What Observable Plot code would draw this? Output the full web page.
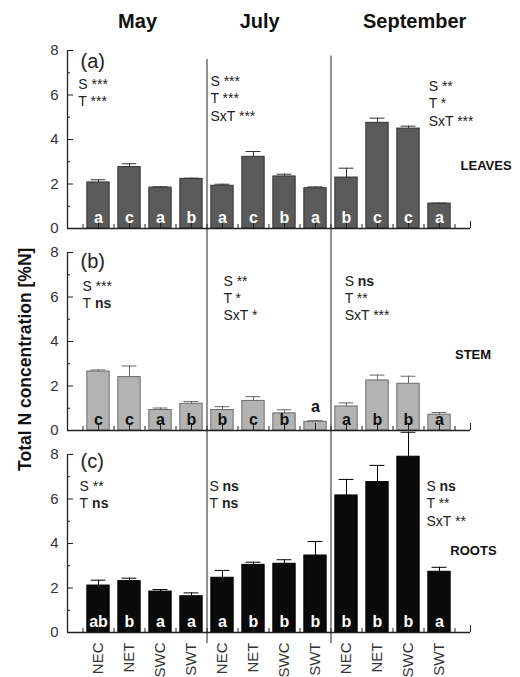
<!DOCTYPE html>
<html>
<head>
<meta charset="utf-8">
<script src="https://cdn.jsdelivr.net/npm/d3@7"></script>
<script src="https://cdn.jsdelivr.net/npm/@observablehq/plot@0.6"></script>
<style>
  html, body { margin: 0; padding: 0; background: #fff; }
  #chart svg { display: block; }
</style>
</head>
<body>
<div id="chart"></div>
<script>
// ---- data ----
const months = ["May", "July", "September"];
const treatments = ["NEC", "NET", "SWC", "SWT"];
const categories = months.flatMap(() => treatments);

const leaves        = [2.07, 2.76, 1.84, 2.23, 1.92, 3.22, 2.34, 1.81, 2.29, 4.75, 4.49, 1.12];
const leavesErr     = [0.12, 0.15, 0.03, 0.03, 0.07, 0.24, 0.10, 0.06, 0.42, 0.21, 0.11, 0.02];
const leavesLetters = ["a", "c", "a", "b", "a", "c", "b", "a", "b", "c", "c", "a"];

const stem          = [2.65, 2.40, 0.92, 1.20, 0.92, 1.33, 0.77, 0.39, 1.08, 2.25, 2.10, 0.71];
const stemErr       = [0.07, 0.50, 0.09, 0.10, 0.15, 0.19, 0.16, 0.05, 0.16, 0.24, 0.34, 0.10];
const stemLetters   = ["c", "c", "a", "b", "b", "c", "b", "a", "a", "b", "b", "a"];

const roots         = [2.11, 2.31, 1.84, 1.63, 2.46, 3.04, 3.09, 3.46, 6.16, 6.76, 7.90, 2.73];
const rootsErr      = [0.24, 0.13, 0.09, 0.15, 0.33, 0.12, 0.18, 0.63, 0.72, 0.75, 1.10, 0.20];
const rootsLetters  = ["ab", "b", "a", "a", "a", "b", "b", "b", "b", "b", "b", "a"];

const panelKeys   = ["a", "b", "c"];
const panelTags   = ["(a)", "(b)", "(c)"];
const organNames  = ["LEAVES", "STEM", "ROOTS"];

// significance annotations (one block per panel x month)
const statPanel = ["a", "a", "a", "b", "b", "b", "c", "c", "c"];
const statS     = ["***", "***", "**", "***", "**", "ns", "**", "ns", "ns"];
const statT     = ["***", "***", "*", "ns", "*", "**", "ns", "ns", "**"];
const statSxT   = [null, "***", "***", null, "*", "***", null, null, "**"];

const yMajor = [0, 2, 4, 6, 8];
const yMinor = [1, 3, 5, 7];

// ---- styling / placement (not data) ----
const statX = [0.35, 4.61, 11.65, 0.48, 5.03, 8.94, 0.39, 4.58, 11.58];
const statY = [6.47, 6.61, 6.38, 6.49, 6.71, 6.71, 6.56, 6.56, 6.56];
const organX = [12.68, 12.5, 12.35];
const organY = [2.83, 3.42, 3.69];
const tagY = [7.5, 7.6, 7.69];
const monthX = [2.26, 6.2, 11.2];
const barFill   = {a: "#5a5a5a", b: "#b3b3b3", c: "#0a0a0a"};
const barStroke = {a: "#333333", b: "#6a6a6a", c: "#000000"};
const errStroke = {a: "#333333", b: "#666666", c: "#000000"};
const letterFill = {a: "#ffffff", b: "#111111", c: "#ffffff"};
const PXX = 31;    // approx px per x unit
const PXY = 22.3;  // approx px per y unit

// ---- build tables ----
const series = [[leaves, leavesErr, leavesLetters], [stem, stemErr, stemLetters], [roots, rootsErr, rootsLetters]];
const bars = series.flatMap(([vals, errs, lets], p) => vals.map((v, i) => ({
  panel: panelKeys[p], pos: i + 1, value: v, err: errs[i], letter: lets[i], cat: categories[i]
})));

const statRows = statPanel.flatMap((panel, k) => {
  const lines = [["S", statS[k]], ["T", statT[k]]];
  if (statSxT[k]) lines.push(["SxT", statSxT[k]]);
  return lines.map(([label, sig], j) => ({panel, x: statX[k], y: statY[k] - j * 0.78, label, sig}));
});
const labelW = {S: 13 / PXX, T: 12.5 / PXX, SxT: 29 / PXX};

const tags = panelKeys.map((panel, p) => ({panel, text: panelTags[p], y: tagY[p]}));
const organs = panelKeys.map((panel, p) => ({panel, text: organNames[p], x: organX[p], y: organY[p]}));
const titles = months.map((m, i) => ({panel: "a", text: m, x: monthX[i]}));
const separators = [4.5, 8.5].flatMap(x => [
  {panel: "a", x, y1: 0, y2: x < 5 ? 7.6 : 7.75},
  {panel: "b", x, y1: 0, y2: 9.1},
  {panel: "c", x, y1: -0.5, y2: 9.1}
]);

const font = "'Liberation Sans', Arial, Helvetica, sans-serif";

const chart = Plot.plot({
  width: 520,
  height: 677,
  marginTop: 49,
  marginBottom: 44,
  marginLeft: 67,
  marginRight: 50,
  style: {fontFamily: font, background: "#fff", color: "#222"},
  x: {domain: [0, 13], label: null},
  y: {domain: [0, 8], label: null},
  fy: {domain: panelKeys, axis: null, paddingInner: 0.118, paddingOuter: 0},
  marks: [
    // separators
    Plot.ruleX(separators, {x: "x", y1: "y1", y2: "y2", fy: "panel", stroke: "#222", strokeWidth: 1}),
    // bars
    Plot.rect(bars, {
      x1: d => d.pos - 0.36, x2: d => d.pos + 0.36, y1: 0, y2: "value", fy: "panel",
      fill: d => barFill[d.panel], stroke: d => barStroke[d.panel], strokeWidth: 1
    }),
    // error bars
    Plot.ruleX(bars, {x: "pos", y1: "value", y2: d => d.value + d.err, fy: "panel", stroke: d => errStroke[d.panel], strokeWidth: 1}),
    Plot.ruleY(bars, {y: d => d.value + d.err, x1: d => d.pos - 0.24, x2: d => d.pos + 0.24, fy: "panel", stroke: d => errStroke[d.panel], strokeWidth: 1}),
    // axes lines
    Plot.ruleY([0], {stroke: "#222", strokeWidth: 1.3}),
    Plot.ruleX([0], {y1: 0, y2: 8, stroke: "#222", strokeWidth: 1.3}),
    // inward ticks
    Plot.ruleY(yMajor, {y: d => d, x1: 0, x2: 6 / PXX, stroke: "#222"}),
    Plot.ruleY(yMinor, {y: d => d, x1: 0, x2: 3 / PXX, stroke: "#222"}),
    Plot.ruleX(d3.range(1, 14), {x: d => d, y1: 0, y2: 7 / PXY, stroke: "#222"}),
    Plot.ruleX(d3.range(0.5, 13, 1), {x: d => d, y1: 0, y2: 4 / PXY, stroke: "#222"}),
    // tick labels
    Plot.axisY({ticks: yMajor, tickSize: 0, tickPadding: 9, fontSize: 15, fill: "#333", label: null}),
    Plot.axisX({ticks: d3.range(1, 13), tickFormat: i => categories[i - 1], tickRotate: -90, tickSize: 0, tickPadding: 10, fontSize: 15, fill: "#333", label: null}),
    // letters
    Plot.text(bars, {
      x: "pos", y: d => d.value < 0.5 ? d.value + 0.68 : 0.5, fy: "panel", text: "letter",
      fill: d => d.value < 0.5 ? "#111" : letterFill[d.panel], fontSize: 16, fontWeight: "bold", lineAnchor: "middle"
    }),
    // stats
    Plot.text(statRows.filter(d => d.sig !== "ns"), {x: "x", y: "y", fy: "panel", text: d => d.label + " " + d.sig, textAnchor: "start", fontSize: 14, fill: "#222"}),
    Plot.text(statRows.filter(d => d.sig === "ns"), {x: "x", y: "y", fy: "panel", text: "label", textAnchor: "start", fontSize: 14, fill: "#222"}),
    Plot.text(statRows.filter(d => d.sig === "ns"), {x: d => d.x + labelW[d.label], y: "y", fy: "panel", text: "sig", textAnchor: "start", fontSize: 14, fontWeight: "bold", fill: "#222"}),
    // panel tags & organ names
    Plot.text(tags, {x: 0.42, y: "y", fy: "panel", text: "text", textAnchor: "start", fontSize: 20, fill: "#222"}),
    Plot.text(organs, {x: "x", y: "y", fy: "panel", text: "text", textAnchor: "start", fontSize: 13, fontWeight: "bold", fill: "#111"}),
    // month titles
    Plot.text(titles, {x: "x", y: 9.3, fy: "panel", text: "text", fontSize: 20, fontWeight: "bold", fill: "#111"}),
    // y title
    Plot.text(["Total N concentration [%N]"], {x: -1.35, y: 3.2, fy: () => "b", text: d => d, rotate: -90, fontSize: 17.5, fontWeight: "bold", fill: "#111"})
  ]
});
document.getElementById("chart").appendChild(chart);
</script>
</body>
</html>
